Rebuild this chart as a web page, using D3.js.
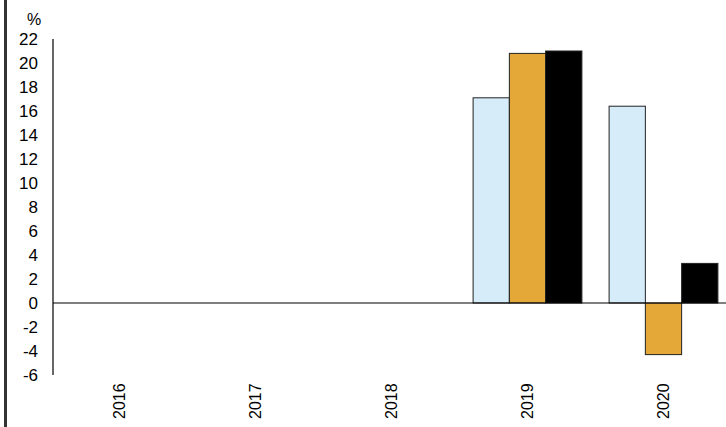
<!DOCTYPE html>
<html>
<head>
<meta charset="utf-8">
<script src="https://cdn.jsdelivr.net/npm/d3@7"></script>
<style>
  body { margin: 0; background: #fff; }
  svg { display: block; font-family: Arial, "Liberation Sans", sans-serif; }
</style>
</head>
<body>
<svg id="chart" width="726" height="427"></svg>
<script>
// data
const years = ["2016", "2017", "2018", "2019", "2020"];
const seriesNames = ["a", "b", "c"];
const seriesA = [null, null, null, 17.1, 16.4];
const seriesB = [null, null, null, 20.8, -4.3];
const seriesC = [null, null, null, 21.0, 3.3];
const yTicks = [22, 20, 18, 16, 14, 12, 10, 8, 6, 4, 2, 0, -2, -4, -6];
const colors = ["#d6ecf9", "#e3a838", "#000000"];

const svg = d3.select("#chart");

const y = d3.scaleLinear().domain([-6, 22]).range([375, 39]);
const x0 = d3.scaleBand().domain(years).range([51.5, 731.5]);
const x1 = d3.scaleBand().domain(seriesNames)
  .range([x0.bandwidth() * 0.1, x0.bandwidth() * 0.9]);

// left frame line
svg.append("line")
  .attr("x1", 5.5).attr("x2", 5.5).attr("y1", 0).attr("y2", 427)
  .attr("stroke", "#333").attr("stroke-width", 3);

// bars
const rows = years.map((yr, i) => ({
  year: yr,
  vals: [seriesA[i], seriesB[i], seriesC[i]]
}));

svg.append("g")
  .selectAll("g")
  .data(rows)
  .join("g")
  .attr("transform", d => `translate(${x0(d.year)},0)`)
  .selectAll("rect")
  .data(d => d.vals.map((v, j) => ({ v, j })).filter(e => e.v != null))
  .join("rect")
  .attr("x", e => x1(seriesNames[e.j]))
  .attr("width", x1.bandwidth())
  .attr("y", e => y(Math.max(0, e.v)))
  .attr("height", e => Math.abs(y(e.v) - y(0)))
  .attr("fill", e => colors[e.j])
  .attr("stroke", "#222")
  .attr("stroke-width", 1);

// zero line
svg.append("line")
  .attr("x1", 53).attr("x2", 726)
  .attr("y1", y(0)).attr("y2", y(0))
  .attr("stroke", "#000").attr("stroke-width", 1.2);

// y axis
svg.append("line")
  .attr("x1", 53).attr("x2", 53)
  .attr("y1", y(22)).attr("y2", y(-6))
  .attr("stroke", "#000").attr("stroke-width", 1.2);

svg.append("g")
  .selectAll("text")
  .data(yTicks)
  .join("text")
  .attr("x", 38)
  .attr("y", d => y(d))
  .attr("dy", "0.36em")
  .attr("text-anchor", "end")
  .attr("font-size", 17)
  .attr("fill", "#000")
  .text(d => d);

svg.append("text")
  .attr("x", 34).attr("y", 25)
  .attr("text-anchor", "middle")
  .attr("font-size", 16)
  .text("%");

// x labels, rotated
svg.append("g")
  .selectAll("text")
  .data(years)
  .join("text")
  .attr("transform", d => `translate(${x0(d) + x0.bandwidth() / 2},419) rotate(-90)`)
  .attr("dy", "0.36em")
  .attr("text-anchor", "start")
  .attr("font-size", 16)
  .attr("fill", "#000")
  .text(d => d);
</script>
</body>
</html>
